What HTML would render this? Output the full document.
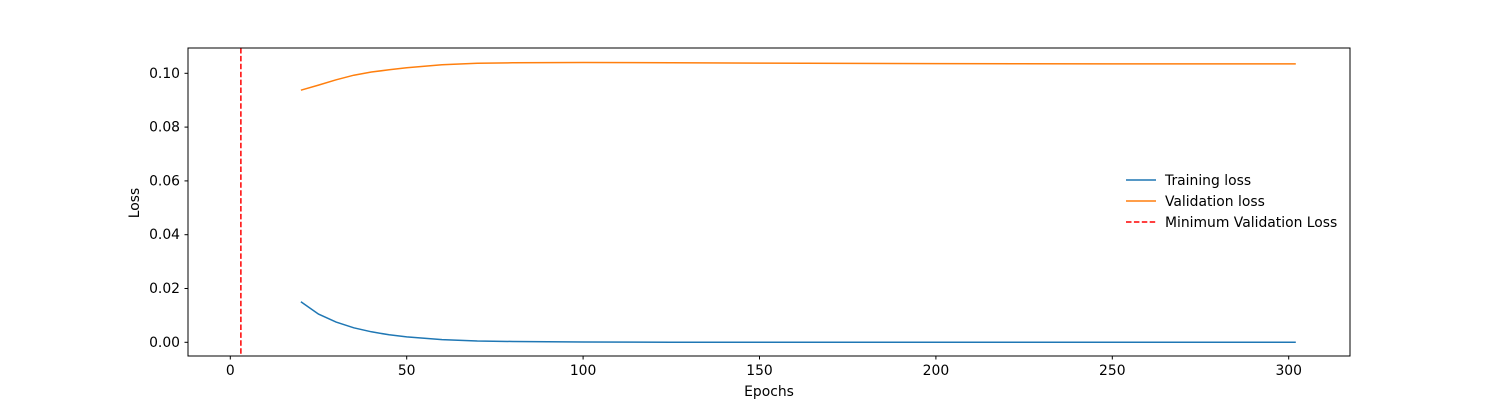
<!DOCTYPE html>
<html><head><meta charset="utf-8"><style>
body{margin:0;background:#fff;}
svg text{font-family:"DejaVu Sans","Liberation Sans",sans-serif;font-size:13.9px;fill:#000;}
</style></head><body>
<svg id="chart" width="1500" height="400">
<rect x="188" y="48" width="1162" height="308" fill="#fff" stroke="none"/>
<g id="marks"></g>
<rect x="188" y="48" width="1162" height="308" fill="none" stroke="#000" stroke-width="1"/>
<g id="ticks"></g>
<text x="769" y="396" text-anchor="middle">Epochs</text>
<text transform="translate(139,203) rotate(-90)" text-anchor="middle">Loss</text>
<g>
<g><line x1="1126" y1="180" x2="1156" y2="180" stroke="#1f77b4" stroke-width="1.5"/><text x="1165" y="185">Training loss</text></g>
<g><line x1="1126" y1="201" x2="1156" y2="201" stroke="#ff7f0e" stroke-width="1.5"/><text x="1165" y="206">Validation loss</text></g>
<g><line x1="1126" y1="222" x2="1156" y2="222" stroke="#ff0000" stroke-width="1.5" stroke-dasharray="5.5,2.4"/><text x="1165" y="227">Minimum Validation Loss</text></g>
</g>
</svg>
<script>
const epochs = [20,25,30,35,40,45,50,60,70,80,100,125,150,200,250,302];
const trainLoss = [0.0151,0.0105,0.0075,0.0054,0.0039,0.0028,0.0020,0.0010,0.0005,0.0003,0.0001,0.00004,0.00002,0.00001,0,0];
const valLoss = [0.0937,0.0956,0.0976,0.0993,0.1005,0.1013,0.1021,0.1032,0.1037,0.1039,0.1040,0.1039,0.1038,0.1036,0.1035,0.1035];
const minEpoch = 3;
const xTicks = [0,50,100,150,200,250,300];
const yTicks = [0,0.02,0.04,0.06,0.08,0.10];
const yTickLabels = ["0.00","0.02","0.04","0.06","0.08","0.10"];

const ns="http://www.w3.org/2000/svg";
function xs(v){return 230.3+v*(406.7-230.3)/50;}
function ys(v){return 342.3-v*(342.3-73.3)/0.10;}
const marks=document.getElementById('marks');
const ticks=document.getElementById('ticks');
function mk(tag,attrs,parent){const e=document.createElementNS(ns,tag);for(const k in attrs)e.setAttribute(k,attrs[k]);parent.appendChild(e);return e;}

const vl=mk('line',{x1:xs(minEpoch),x2:xs(minEpoch),y1:48,y2:356,stroke:'#ff0000','stroke-width':1.5,'stroke-dasharray':'5.5,2.4'},marks);



function pathFor(arr){return arr.map((v,i)=>(i?'L':'M')+xs(epochs[i]).toFixed(1)+','+ys(v).toFixed(1)).join(' ');}
const tp=mk('path',{d:pathFor(trainLoss),fill:'none',stroke:'#1f77b4','stroke-width':1.5},marks);


const vp=mk('path',{d:pathFor(valLoss),fill:'none',stroke:'#ff7f0e','stroke-width':1.5},marks);



xTicks.forEach(t=>{
  const x=xs(t);
  const l=mk('line',{x1:x,x2:x,y1:356,y2:359.5,stroke:'#000'},ticks);
  
  
  const tx=mk('text',{x:x,y:375,'text-anchor':'middle'},ticks);
  tx.textContent=t;
  
  
});
yTicks.forEach((t,i)=>{
  const y=ys(t);
  const l=mk('line',{x1:184.5,x2:188,y1:y,y2:y,stroke:'#000'},ticks);
  
  
  const tx=mk('text',{x:180,y:y+4.5,'text-anchor':'end'},ticks);
  tx.textContent=yTickLabels[i];
  
  
});
</script>
</body></html>
